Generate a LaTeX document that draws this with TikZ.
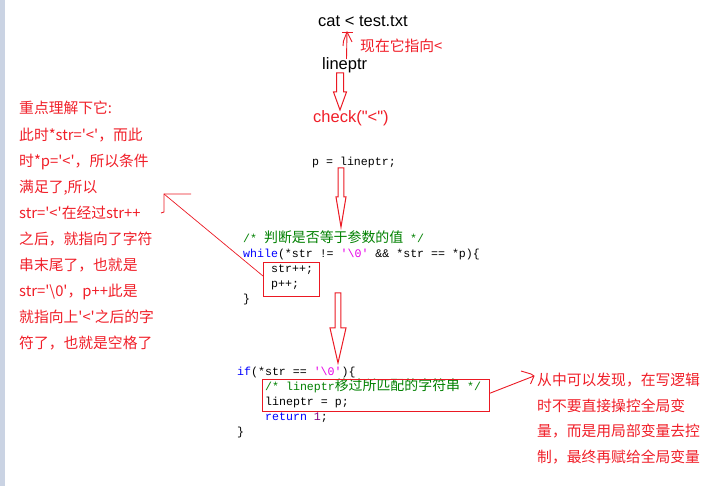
\documentclass[tikz,border=0pt]{standalone}
\usepackage{fontspec}
\usetikzlibrary{calc}
\newfontfamily\shellfont{Liberation Sans}
\newfontfamily\codefamily{Liberation Mono}
\newfontfamily\cjkfont{Noto Sans CJK SC}
\newfontfamily\cjkcode{Noto Sans CJK SC}[Scale=1.2]
\definecolor{markred}{RGB}{235,25,35}
\definecolor{notered}{RGB}{240,30,40}
\definecolor{codegreen}{RGB}{0,128,0}
\definecolor{codeblue}{RGB}{0,0,255}
\definecolor{codepink}{RGB}{230,0,230}
\definecolor{codepurple}{RGB}{128,0,128}
\definecolor{sidebar}{RGB}{202,211,227}
\newcommand{\sq}{\textquotesingle}
\newcommand{\zh}[1]{{\cjkcode #1}}
\newcommand{\nulchar}{\sq{}\textbackslash0\sq{}}
% hollow block arrow: top, tip, head length, half shaft, half head
\newcommand{\blockarrow}[5]{%
  \draw[markred, line width=1pt, line join=miter] let \p1=(#1), \p2=(#2) in
    (\x1-#4pt,\y1) -- (\x1+#4pt,\y1) -- (\x1+#4pt,\y2+#3pt) -- (\x1+#5pt,\y2+#3pt)
    -- (\x2,\y2) -- (\x1-#5pt,\y2+#3pt) -- (\x1-#4pt,\y2+#3pt) -- cycle;}
\tikzset{
  shell/.style={font={\shellfont\fontsize{16.5}{18}\selectfont}, anchor=base west, inner sep=0pt},
  note/.style={font={\cjkfont\fontsize{14.8}{17}\selectfont}, text=notered, anchor=base west, inner sep=0pt},
  code/.style={font={\codefamily\fontsize{11.6}{14}\selectfont}, anchor=base west, inner sep=0pt},
  markbox/.style={draw=markred, line width=1pt, inner sep=0pt, anchor=north west},
  sketch/.style={draw=markred, line width=0.9pt}
}

\begin{document}
\begin{tikzpicture}[x=1pt, y=-1pt]
    \useasboundingbox (0,0) rectangle (724,486);
    \fill[sidebar] (0,0) rectangle (5,486);

    % Shell command and pointer
    \node[shell] (cmd) at (318,27) {cat < test.txt};
    \node[note] (nownote) at (360,52) {现在它指向<};
    \node[shell] (lineptr) at (322,70) {lineptr};
    \node[shell, text=notered] (check) at (313,123) {check(\textquotedbl<\textquotedbl)};
    \coordinate (upfoot) at (346.5,59);
    \coordinate (uptip) at (347,32);
    \draw[sketch] (upfoot) -- (uptip);
    \draw[sketch] (342,32) -- (353,32);
    \draw[sketch] (343,46) -- (343.5,41) -- (uptip) -- (352,42);

    % Block arrows
    \coordinate (a1top) at (340,73);  \coordinate (a1tip) at (340,110);
    \coordinate (a2top) at (341,168); \coordinate (a2tip) at (341,227);
    \coordinate (a3top) at (338,293); \coordinate (a3tip) at (338,363);
    \blockarrow{a1top}{a1tip}{18}{3.5}{6.5}
    \blockarrow{a2top}{a2tip}{30}{2.8}{5}
    \blockarrow{a3top}{a3tip}{35}{2.8}{8}

    % Matching loop
    \node[code] (pline) at (312,166) {p = lineptr;};
    \node[code, text=codegreen] (cmt1) at (243,243) {/* \zh{判断是否等于参数的值} */};
    \node[code] (whileln) at (243,258) {\textcolor{codeblue}{while}(*str != \textcolor{codepink}{\nulchar} \&\& *str == *p)\{};
    \node[code] (strinc) at (271,273) {str++;};
    \node[code] (pinc) at (271,288) {p++;};
    \node[code] (whileend) at (243,303) {\}};
    \node[markbox, minimum width=56pt, minimum height=34pt] (loopbox) at (263,262) {};

    % End of string test
    \node[code] (ifln) at (237,376) {\textcolor{codeblue}{if}(*str == \textcolor{codepink}{\nulchar})\{};
    \node[code, text=codegreen] (cmt2) at (265,391) {/* lineptr\zh{移过所匹配的字符串} */};
    \node[code] (assign) at (265,406) {lineptr = p;};
    \node[code] (retln) at (265,421) {\textcolor{codeblue}{return} \textcolor{codepurple}{1};};
    \node[code] (ifend) at (237,436) {\}};
    \node[markbox, minimum width=227pt, minimum height=32pt] (movebox) at (262,379) {};

    % Left note
    \node[note] (lnote1) at (19,114) {重点理解下它:};
    \node[note] (lnote2) at (19,140.1) {此时*str=\sq{}<\sq{}，而此};
    \node[note] (lnote3) at (19,166.2) {时*p=\sq{}<\sq{}，所以条件};
    \node[note] (lnote4) at (19,192.3) {满足了,所以};
    \node[note] (lnote5) at (19,218.4) {str=\sq{}<\sq{}在经过str++};
    \node[note] (lnote6) at (19,244.5) {之后，就指向了字符};
    \node[note] (lnote7) at (19,270.6) {串末尾了，也就是};
    \node[note] (lnote8) at (19,296.7) {str=\sq{}\textbackslash0\sq{}，p++此是};
    \node[note] (lnote9) at (19,322.8) {就指向上\sq{}<\sq{}之后的字};
    \node[note] (lnote10) at (19,348.9) {符了，也就是空格了};
    \coordinate (ltip) at (164,194);
    \draw[sketch, line width=0.7pt] ($(loopbox.north west)!0.4!(loopbox.south west)$) -- (ltip);
    \draw[sketch] (161,213) -- (164,212) -- (ltip) -- (191,194);

    % Right note
    \node[note] (rnote1) at (537,385.5) {从中可以发现，在写逻辑};
    \node[note] (rnote2) at (537,411.2) {时不要直接操控全局变};
    \node[note] (rnote3) at (537,436.9) {量，而是用局部变量去控};
    \node[note] (rnote4) at (537,462.6) {制，最终再赋给全局变量};
    \coordinate (rtip) at (534,376);
    \draw[sketch] ($(movebox.north east)!0.43!(movebox.south east)$) -- (rtip);
    \draw[sketch] (521,371) -- (531,374) -- (rtip) -- (530.5,384);

\end{tikzpicture}
\end{document}
